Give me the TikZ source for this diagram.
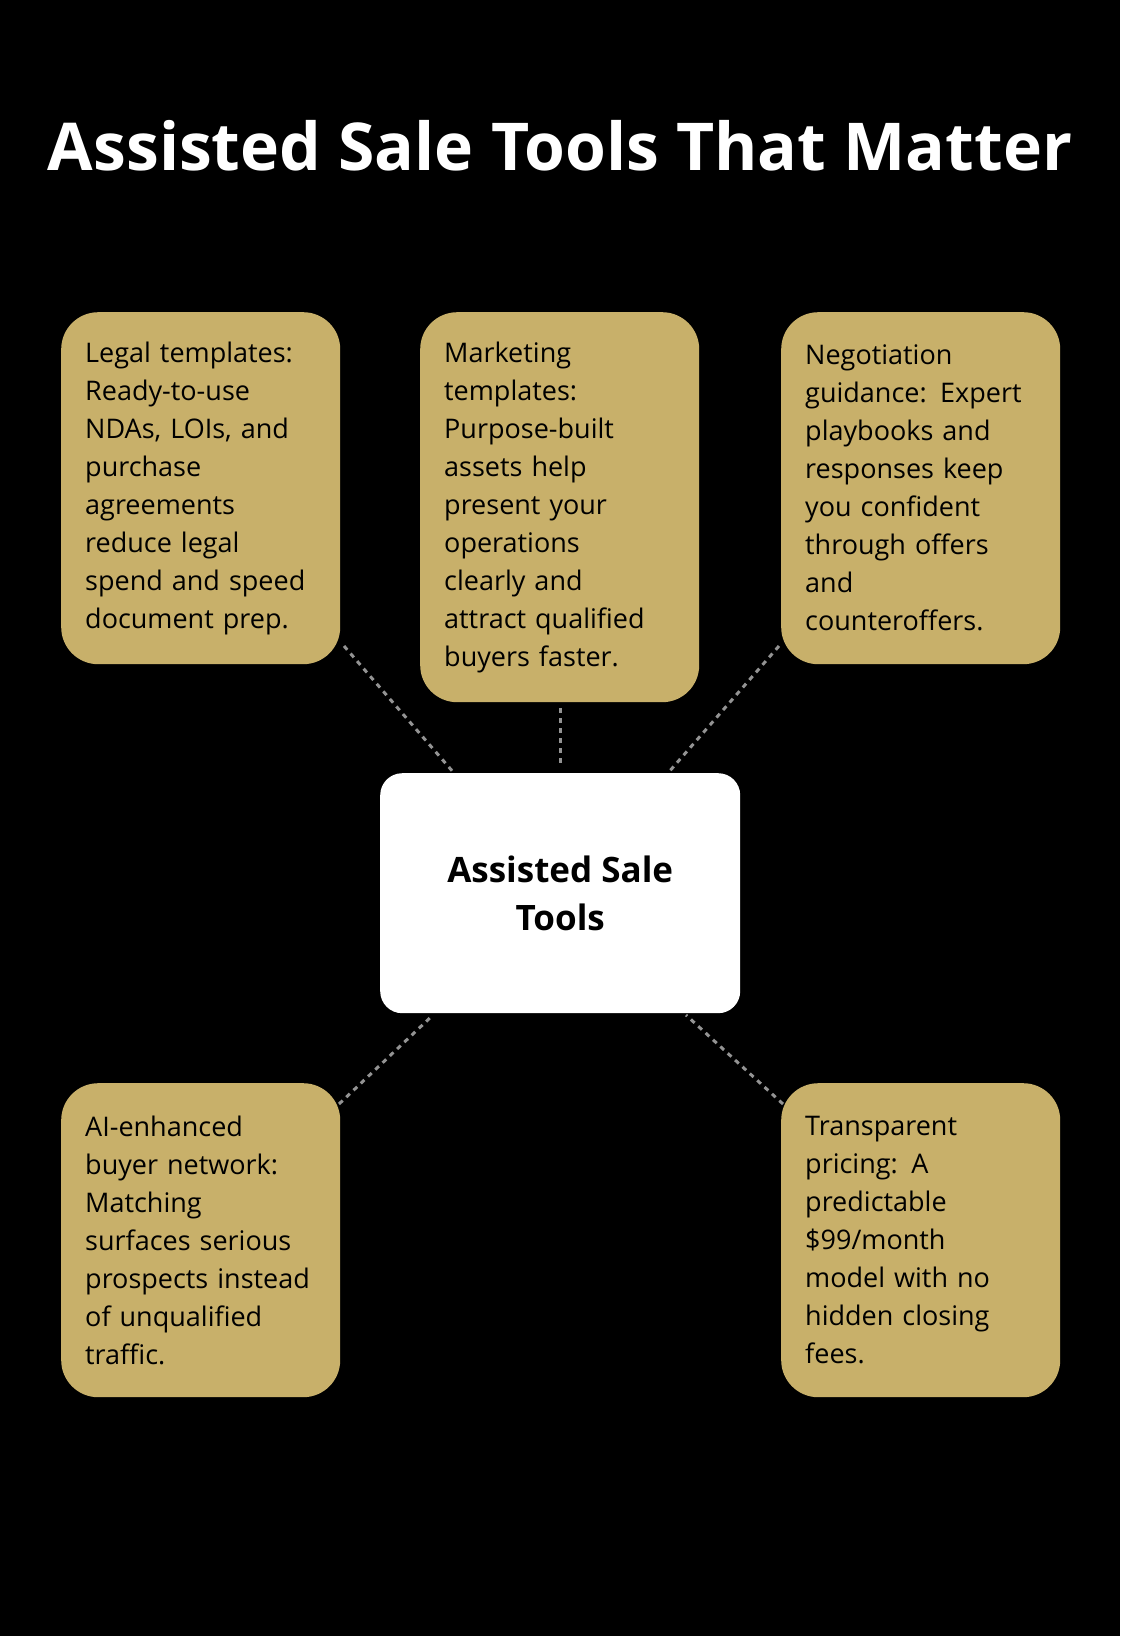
\documentclass[tikz,border=0pt]{standalone}
\usepackage{fontspec}
\setmainfont{Open Sans}
\definecolor{gold}{HTML}{C8B06A}
\begin{document}
\begin{tikzpicture}[x=1pt,y=-1pt,
  box/.style={fill=gold,rounded corners=37pt,minimum width=279pt,text width=231pt,align=left,inner sep=24pt,font=\fontsize{27}{38}\selectfont,text=black,anchor=north west},
  con/.style={draw=gray!85,dash pattern=on 5pt off 5pt,line width=3pt}]
\fill[black] (0,0) rectangle (1120,1636);
\useasboundingbox (0,0) rectangle (1120,1636);
\node[text=white,font=\fontsize{66}{70}\selectfont\bfseries] (title) at (560,146) {Assisted Sale Tools That Matter};
\node[box,minimum height=352pt] (b1) at (61,312) {Legal templates:\\Ready-to-use\\NDAs, LOIs, and\\purchase\\agreements\\reduce legal\\spend and speed\\document prep.};
\node[box,minimum height=390pt] (b2) at (420,312) {Marketing\\templates:\\Purpose-built\\assets help\\present your\\operations\\clearly and\\attract qualified\\buyers faster.};
\node[box,minimum height=352pt] (b3) at (781,312) {Negotiation\\guidance: Expert\\playbooks and\\responses keep\\you confident\\through offers\\and\\counteroffers.};
\node[fill=white,rounded corners=22pt,minimum width=360pt,minimum height=240pt,align=center,font=\fontsize{35}{48}\selectfont\bfseries,anchor=north west] (c) at (380,773) {Assisted Sale\\Tools};
\node[box,minimum height=314pt] (b4) at (61,1083) {AI-enhanced\\buyer network:\\Matching\\surfaces serious\\prospects instead\\of unqualified\\traffic.};
\node[box,minimum height=314pt] (b5) at (781,1083) {Transparent\\pricing: A\\predictable\\\$99/month\\model with no\\hidden closing\\fees.};
\coordinate (p1) at (344,646); \coordinate (q1) at (454,773);
\coordinate (p2) at (560,708); \coordinate (q2) at (560,767);
\coordinate (p3) at (779,646); \coordinate (q3) at (668,773);
\coordinate (p4) at (339,1104); \coordinate (q4) at (433,1015);
\coordinate (p5) at (783,1104); \coordinate (q5) at (686,1015);
\draw[con] (p1) -- (q1); \draw[con] (p2) -- (q2); \draw[con] (p3) -- (q3);
\draw[con] (p4) -- (q4); \draw[con] (p5) -- (q5);
\end{tikzpicture}
\end{document}
